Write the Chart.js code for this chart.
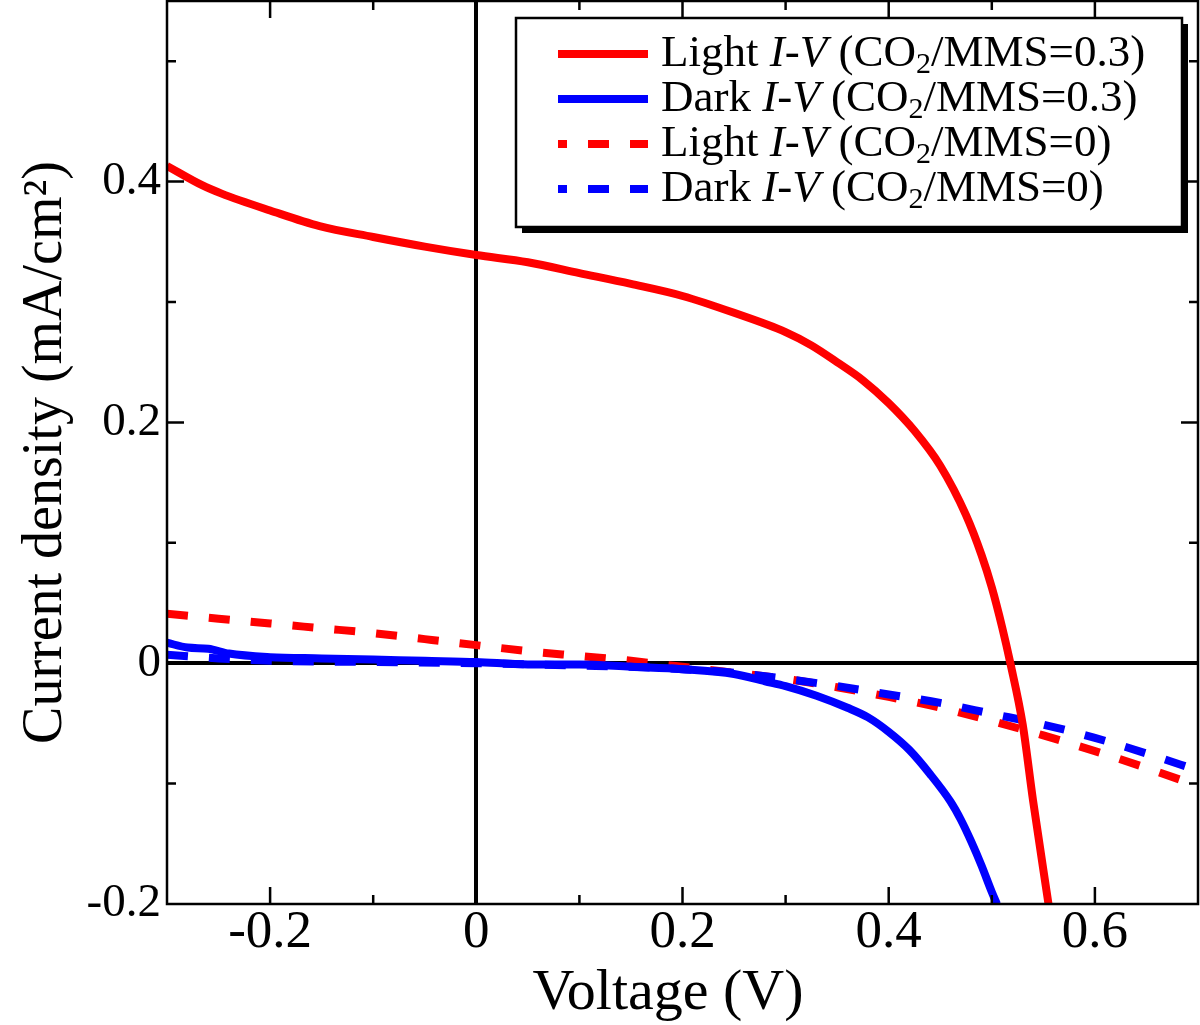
<!DOCTYPE html>
<html>
<head>
<meta charset="utf-8">
<script src="https://cdn.jsdelivr.net/npm/chart.js@4.4.0/dist/chart.umd.min.js"></script>
<style>
  html, body { margin: 0; padding: 0; background: #fff; }
  #wrap { width: 1200px; height: 1025px; }
</style>
</head>
<body>
<div id="wrap"><canvas id="myChart" width="1200" height="1025"></canvas></div>
<script>
'use strict';

// values (V, mA/cm2)
let lightV03 = [-0.3, -0.266, -0.247, -0.2, -0.152, -0.1, -0.05, 0, 0.05, 0.1, 0.15, 0.2, 0.25, 0.3, 0.325, 0.35, 0.375, 0.4, 0.425, 0.45, 0.475, 0.49, 0.5, 0.51, 0.518, 0.53, 0.54, 0.555];
let lightJ03 = [0.413, 0.397, 0.390, 0.376, 0.363, 0.354, 0.346, 0.339, 0.333, 0.324, 0.315, 0.305, 0.291, 0.275, 0.264, 0.250, 0.235, 0.216, 0.193, 0.164, 0.123, 0.090, 0.063, 0.030, 0, -0.051, -0.114, -0.2];

let darkV03 = [-0.3, -0.28, -0.26, -0.24, -0.2, -0.15, -0.1, -0.05, 0, 0.05, 0.1, 0.15, 0.2, 0.25, 0.28, 0.3, 0.33, 0.36, 0.38, 0.4, 0.42, 0.44, 0.46, 0.47, 0.48, 0.49, 0.5, 0.505];
let darkJ03 = [0.017, 0.013, 0.012, 0.008, 0.005, 0.004, 0.003, 0.002, 0.001, -0.001, -0.001, -0.003, -0.005, -0.009, -0.015, -0.019, -0.027, -0.037, -0.045, -0.057, -0.072, -0.092, -0.115, -0.130, -0.148, -0.168, -0.190, -0.2];

let lightV0 = [-0.3, -0.25, -0.2, -0.15, -0.1, -0.05, 0, 0.05, 0.1, 0.15, 0.2, 0.25, 0.3, 0.35, 0.4, 0.45, 0.5, 0.55, 0.6, 0.65, 0.7];
let lightJ0 = [0.041, 0.037, 0.033, 0.029, 0.025, 0.020, 0.015, 0.010, 0.006, 0.002, -0.003, -0.008, -0.013, -0.020, -0.028, -0.037, -0.048, -0.060, -0.073, -0.087, -0.102];

let darkV0 = [-0.3, -0.25, -0.2, -0.1, 0, 0.1, 0.15, 0.2, 0.25, 0.3, 0.35, 0.4, 0.45, 0.5, 0.55, 0.6, 0.65, 0.7];
let darkJ0 = [0.007, 0.004, 0.002, 0.001, 0, -0.002, -0.003, -0.005, -0.008, -0.013, -0.019, -0.026, -0.033, -0.042, -0.051, -0.062, -0.075, -0.089];

let xMajorTicks = [-0.2, 0, 0.2, 0.4, 0.6];
let xMinorTicks = [-0.1, 0.1, 0.3, 0.5];
let yLabelTicks = [-0.2, 0, 0.2, 0.4];
let yMajorTicks = [0, 0.2, 0.4];
let yMinorTicks = [-0.1, 0.1, 0.3, 0.5];

let seriesNames = ['Light', 'Dark', 'Light', 'Dark'];
let seriesRatio = ['0.3', '0.3', '0', '0'];

const serif = "'Liberation Serif', 'DejaVu Serif', serif";
const dash = [21, 21];

function toPoints(xs, ys) {
    let pts = [];
    for (let i = 0; i < xs.length; i++) {
        pts.push({ x: xs[i], y: ys[i] });
    }
    return pts;
}

function drawLabel(ctx, x, y, name, ratio) {
    // Light I-V (CO2/MMS=0.3) with italic I-V and subscript 2
    let parts = [
        { t: name + ' ', f: '45px ' + serif, dy: 0 },
        { t: 'I-V', f: 'italic 45px ' + serif, dy: 0 },
        { t: ' (CO', f: '45px ' + serif, dy: 0 },
        { t: '2', f: '30px ' + serif, dy: 11 },
        { t: '/MMS=' + ratio + ')', f: '45px ' + serif, dy: 0 }
    ];
    ctx.fillStyle = '#000';
    ctx.textBaseline = 'middle';
    ctx.textAlign = 'left';
    for (let p of parts) {
        ctx.font = p.f;
        ctx.fillText(p.t, x, y + p.dy);
        x += ctx.measureText(p.t).width;
    }
}

const framePlugin = {
    id: 'framePlugin',
    afterDraw(chart) {
        let ctx = chart.ctx;
        let a = chart.chartArea;
        let xs = chart.scales.x;
        let ys = chart.scales.y;
        ctx.save();
        ctx.strokeStyle = '#000';
        ctx.lineWidth = 2.5;
        ctx.strokeRect(a.left, a.top, a.right - a.left, a.bottom - a.top);

        // inward ticks on all four sides
        function xTick(v, len) {
            let px = xs.getPixelForValue(v);
            ctx.beginPath();
            ctx.moveTo(px, a.bottom); ctx.lineTo(px, a.bottom - len);
            ctx.moveTo(px, a.top); ctx.lineTo(px, a.top + len);
            ctx.stroke();
        }
        function yTick(v, len) {
            let py = ys.getPixelForValue(v);
            ctx.beginPath();
            ctx.moveTo(a.left, py); ctx.lineTo(a.left + len, py);
            ctx.moveTo(a.right, py); ctx.lineTo(a.right - len, py);
            ctx.stroke();
        }
        xMajorTicks.forEach(v => xTick(v, 17));
        xMinorTicks.forEach(v => xTick(v, 9));
        yMajorTicks.forEach(v => yTick(v, 17));
        yMinorTicks.forEach(v => yTick(v, 9));

        // legend box with shadow
        let bx = 516, by = 18, bw = 666, bh = 209;
        ctx.fillStyle = '#000';
        ctx.fillRect(bx + 6, by + 6, bw, bh);
        ctx.fillStyle = '#fff';
        ctx.fillRect(bx, by, bw, bh);
        ctx.lineWidth = 2.5;
        ctx.strokeRect(bx, by, bw, bh);

        chart.data.datasets.forEach((ds, i) => {
            let ly = 54 + i * 45;
            ctx.beginPath();
            ctx.strokeStyle = ds.borderColor;
            ctx.lineWidth = 8;
            ctx.setLineDash(ds.borderDash || []);
            ctx.lineDashOffset = 12;
            ctx.moveTo(558, ly);
            ctx.lineTo(648, ly);
            ctx.stroke();
            ctx.setLineDash([]);
            drawLabel(ctx, 661, ly, seriesNames[i], seriesRatio[i]);
        });
        ctx.restore();
    }
};

function zeroGrid(c) {
    return (c.tick && c.tick.value === 0) ? '#000' : 'rgba(0,0,0,0)';
}

function fmt(v) {
    return String(Math.round(v * 10) / 10);
}

let ctx = document.getElementById('myChart').getContext('2d');

let chart = new Chart(ctx, {
    type: 'line',
    data: {
        datasets: [
            {
                label: 'Light I-V (CO2/MMS=0.3)',
                data: toPoints(lightV03, lightJ03),
                borderColor: '#ff0000',
                borderWidth: 8,
                order: 2
            },
            {
                label: 'Dark I-V (CO2/MMS=0.3)',
                data: toPoints(darkV03, darkJ03),
                borderColor: '#0000ff',
                borderWidth: 8,
                order: 1
            },
            {
                label: 'Light I-V (CO2/MMS=0)',
                data: toPoints(lightV0, lightJ0),
                borderColor: '#ff0000',
                borderWidth: 8,
                borderDash: dash,
                order: 4
            },
            {
                label: 'Dark I-V (CO2/MMS=0)',
                data: toPoints(darkV0, darkJ0),
                borderColor: '#0000ff',
                borderWidth: 8,
                borderDash: dash,
                order: 3
            }
        ]
    },
    options: {
        responsive: false,
        animation: false,
        layout: { padding: { top: 1, right: 2, left: 0, bottom: 0 } },
        elements: {
            point: { radius: 0 },
            line: { cubicInterpolationMode: 'monotone', borderCapStyle: 'butt', fill: false }
        },
        plugins: {
            legend: { display: false },
            tooltip: { enabled: false }
        },
        scales: {
            x: {
                type: 'linear',
                min: -0.3,
                max: 0.7,
                afterBuildTicks(scale) { scale.ticks = xMajorTicks.map(v => ({ value: v })); },
                afterFit(scale) {
                    scale.height = 121;
                    scale.paddingLeft = 0;
                    scale.paddingRight = 0;
                },
                ticks: {
                    padding: 3,
                    color: '#000',
                    maxRotation: 0,
                    font: { family: serif, size: 53, lineHeight: 1 },
                    callback: fmt
                },
                grid: { drawTicks: false, lineWidth: 4, color: zeroGrid },
                border: { display: false },
                title: {
                    display: true,
                    text: 'Voltage (V)  ',
                    color: '#000',
                    font: { family: serif, size: 58, lineHeight: 1 },
                    padding: { top: 0, bottom: 2 }
                }
            },
            y: {
                type: 'linear',
                min: -0.2,
                max: 0.55,
                afterBuildTicks(scale) { scale.ticks = yLabelTicks.map(v => ({ value: v })); },
                afterFit(scale) {
                    scale.width = 167;
                    scale.paddingTop = 0;
                    scale.paddingBottom = 0;
                },
                ticks: {
                    padding: 6,
                    color: '#000',
                    font: { family: serif, size: 47 },
                    callback: fmt
                },
                grid: { drawTicks: false, lineWidth: 4, color: zeroGrid },
                border: { display: false },
                title: {
                    display: true,
                    text: 'Current density (mA/cm²)',
                    color: '#000',
                    font: { family: serif, size: 56, lineHeight: 1 },
                    padding: { top: 18, bottom: 0 }
                }
            }
        }
    },
    plugins: [framePlugin]
});
</script>
</body>
</html>
